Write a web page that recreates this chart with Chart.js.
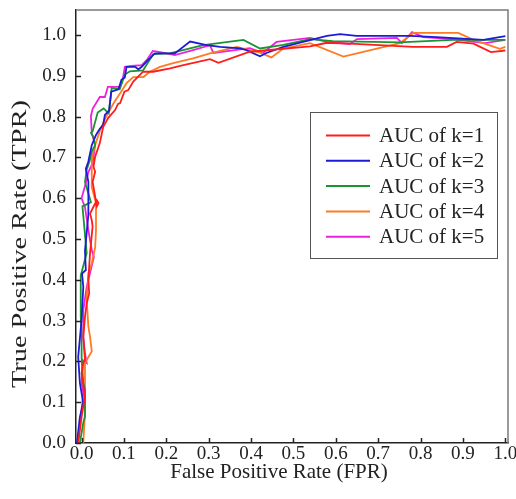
<!DOCTYPE html>
<html>
<head>
<meta charset="utf-8">
<script src="https://cdn.jsdelivr.net/npm/chart.js@4/dist/chart.umd.min.js"></script>
<style>
  body { margin: 0; background: #fff; }
  canvas { display: block; }
</style>
</head>
<body>
<canvas id="roc" width="516" height="499"></canvas>
<script>
// ROC curves, one pair of arrays per k
var fpr1 = [-0.008, 0.0, 0.008, 0.0, 0.004, 0.008, 0.004, 0.008, 0.012, 0.018, 0.016, 0.020, 0.026, 0.024, 0.020, 0.028, 0.036, 0.040, 0.036, 0.026, 0.032, 0.028, 0.032, 0.043, 0.051, 0.063, 0.079, 0.086, 0.091, 0.101, 0.110, 0.122, 0.145, 0.169, 0.209, 0.240, 0.303, 0.323, 0.397, 0.539, 0.579, 0.633, 0.783, 0.862, 0.885, 0.925, 0.966, 1.0];
var tpr1 = [0.0, 0.064, 0.114, 0.171, 0.196, 0.203, 0.260, 0.309, 0.342, 0.367, 0.400, 0.466, 0.531, 0.546, 0.562, 0.579, 0.595, 0.588, 0.580, 0.640, 0.665, 0.677, 0.702, 0.735, 0.775, 0.797, 0.816, 0.831, 0.833, 0.861, 0.865, 0.886, 0.910, 0.910, 0.918, 0.926, 0.941, 0.932, 0.959, 0.972, 0.981, 0.979, 0.971, 0.971, 0.983, 0.979, 0.958, 0.962];

var fpr2 = [-0.011, -0.004, 0.004, -0.004, -0.008, 0.0, 0.004, 0.001, 0.010, 0.008, 0.016, 0.016, 0.010, 0.016, 0.024, 0.034, 0.043, 0.051, 0.055, 0.065, 0.070, 0.087, 0.094, 0.102, 0.106, 0.126, 0.134, 0.142, 0.157, 0.173, 0.220, 0.256, 0.295, 0.327, 0.374, 0.389, 0.421, 0.436, 0.476, 0.579, 0.610, 0.649, 0.775, 0.838, 0.948, 1.0];
var tpr2 = [0.0, 0.064, 0.098, 0.147, 0.211, 0.302, 0.383, 0.415, 0.424, 0.471, 0.560, 0.640, 0.672, 0.690, 0.730, 0.755, 0.770, 0.780, 0.804, 0.815, 0.861, 0.867, 0.890, 0.896, 0.922, 0.922, 0.916, 0.922, 0.939, 0.955, 0.955, 0.984, 0.975, 0.971, 0.967, 0.963, 0.948, 0.956, 0.971, 0.998, 1.002, 0.998, 0.998, 0.995, 0.988, 0.997];

var fpr3 = [-0.004, 0.004, 0.008, 0.008, 0.004, 0.0, 0.0, -0.002, -0.002, 0.003, 0.012, 0.002, 0.012, 0.022, 0.008, 0.012, 0.020, 0.024, 0.032, 0.028, 0.022, 0.026, 0.038, 0.052, 0.064, 0.071, 0.090, 0.102, 0.114, 0.145, 0.169, 0.208, 0.287, 0.382, 0.421, 0.476, 0.539, 0.593, 0.751, 0.876, 1.0];
var tpr3 = [0.0, 0.050, 0.065, 0.130, 0.147, 0.210, 0.270, 0.310, 0.410, 0.430, 0.465, 0.580, 0.585, 0.590, 0.640, 0.670, 0.695, 0.715, 0.730, 0.750, 0.760, 0.764, 0.810, 0.820, 0.808, 0.870, 0.867, 0.903, 0.911, 0.913, 0.953, 0.955, 0.975, 0.988, 0.967, 0.976, 0.990, 0.985, 0.982, 0.988, 0.988];

var fpr4 = [0.004, 0.008, 0.008, 0.008, 0.024, 0.020, 0.016, 0.012, 0.016, 0.024, 0.032, 0.034, 0.034, 0.024, 0.024, 0.028, 0.036, 0.044, 0.055, 0.075, 0.091, 0.106, 0.122, 0.146, 0.161, 0.185, 0.216, 0.263, 0.303, 0.366, 0.421, 0.448, 0.476, 0.539, 0.618, 0.751, 0.783, 0.889, 0.925, 0.987, 1.0];
var tpr4 = [0.0, 0.073, 0.147, 0.196, 0.225, 0.260, 0.285, 0.351, 0.416, 0.440, 0.480, 0.520, 0.588, 0.627, 0.694, 0.715, 0.743, 0.767, 0.794, 0.832, 0.857, 0.882, 0.897, 0.897, 0.910, 0.922, 0.931, 0.943, 0.955, 0.971, 0.957, 0.945, 0.967, 0.980, 0.947, 0.980, 1.005, 1.005, 0.988, 0.966, 0.971];

var fpr5 = [-0.011, -0.008, 0.004, 0.0, 0.003, 0.012, 0.008, 0.004, 0.004, 0.012, 0.020, 0.029, 0.024, 0.016, 0.008, 0.0, 0.010, 0.016, 0.026, 0.032, 0.024, 0.022, 0.026, 0.043, 0.055, 0.062, 0.091, 0.098, 0.102, 0.118, 0.142, 0.154, 0.168, 0.185, 0.220, 0.263, 0.303, 0.311, 0.397, 0.428, 0.460, 0.539, 0.579, 0.633, 0.650, 0.744, 0.756, 0.780, 0.806, 0.876, 0.952, 1.0];
var tpr5 = [0.0, 0.007, 0.122, 0.147, 0.203, 0.196, 0.220, 0.260, 0.326, 0.382, 0.417, 0.456, 0.473, 0.522, 0.578, 0.600, 0.637, 0.664, 0.686, 0.730, 0.760, 0.801, 0.819, 0.848, 0.848, 0.873, 0.873, 0.897, 0.922, 0.924, 0.926, 0.939, 0.961, 0.958, 0.951, 0.963, 0.975, 0.956, 0.968, 0.956, 0.983, 0.993, 0.983, 0.978, 0.990, 0.993, 0.980, 1.007, 0.995, 0.990, 0.980, 0.988];

var seriesNames = ['AUC of k=1', 'AUC of k=2', 'AUC of k=3', 'AUC of k=4', 'AUC of k=5'];
var seriesColors = ['#ff1c1c', '#1c1cd6', '#1a9433', '#ff7b22', '#ee22dd'];
var tickValues = [0, 0.1, 0.2, 0.3, 0.4, 0.5, 0.6, 0.7, 0.8, 0.9, 1.0];

var serif = '"Liberation Serif", "Times New Roman", serif';

function pairs(xs, ys) {
    var out = [];
    for (var i = 0; i < xs.length; i++) out.push({x: xs[i], y: ys[i]});
    return out;
}

var allX = [fpr1, fpr2, fpr3, fpr4, fpr5];
var allY = [tpr1, tpr2, tpr3, tpr4, tpr5];
var datasets = [];
for (var k = 0; k < 5; k++) {
    datasets.push({
        label: seriesNames[k],
        data: pairs(allX[k], allY[k]),
        borderColor: seriesColors[k],
        backgroundColor: seriesColors[k],
        borderWidth: 1.8,
        pointRadius: 0,
        tension: 0,
        fill: false
    });
}

function setTicks(scale) {
    scale.ticks = tickValues.map(function (v) { return {value: v}; });
}

// frame, inside tick marks, axis titles and the boxed legend
var decorations = {
    id: 'decorations',
    afterDraw: function (chart) {
        var ctx = chart.ctx;
        var a = chart.chartArea;
        var xs = chart.scales.x, ys = chart.scales.y;
        ctx.save();

        // top and right frame
        ctx.strokeStyle = '#7a7a7a';
        ctx.lineWidth = 1.5;
        ctx.beginPath();
        ctx.moveTo(a.left, a.top);
        ctx.lineTo(a.right, a.top);
        ctx.lineTo(a.right, a.bottom);
        ctx.stroke();

        // tick marks pointing inwards
        ctx.strokeStyle = '#222';
        ctx.lineWidth = 1.5;
        ctx.beginPath();
        tickValues.forEach(function (v) {
            var px = Math.round(xs.getPixelForValue(v)) + 0.5;
            ctx.moveTo(px, a.bottom);
            ctx.lineTo(px, a.bottom - 5);
            var py = Math.round(ys.getPixelForValue(v)) + 0.5;
            ctx.moveTo(a.left, py);
            ctx.lineTo(a.left + 5, py);
        });
        ctx.stroke();

        // axis titles (the y title is stretched along its length, as in the source figure)
        ctx.fillStyle = '#222';
        ctx.font = '21px ' + serif;
        ctx.textAlign = 'center';
        ctx.textBaseline = 'middle';
        ctx.fillText('False Positive Rate (FPR)', 279, 472);
        ctx.translate(20, 244);
        ctx.rotate(-Math.PI / 2);
        ctx.scale(1.35, 1);
        ctx.fillText('True Positive Rate (TPR)', 0, 0);
        ctx.setTransform(1, 0, 0, 1, 0, 0);

        // legend box
        ctx.strokeStyle = '#555';
        ctx.lineWidth = 1;
        ctx.strokeRect(310.5, 112.5, 187, 146);
        ctx.font = '21px ' + serif;
        ctx.textAlign = 'left';
        chart.data.datasets.forEach(function (ds, i) {
            var y = 135.5 + i * 25.3;
            ctx.strokeStyle = ds.borderColor;
            ctx.lineWidth = 2;
            ctx.beginPath();
            ctx.moveTo(326, y);
            ctx.lineTo(370, y);
            ctx.stroke();
            ctx.fillStyle = '#222';
            ctx.fillText(ds.label, 379, y + 1);
        });
        ctx.restore();
    }
};

new Chart(document.getElementById('roc'), {
    type: 'line',
    data: {datasets: datasets},
    options: {
        responsive: false,
        animation: false,
        events: [],
        layout: {padding: {top: 10, right: 8, left: 0, bottom: 0}},
        plugins: {
            legend: {display: false},
            tooltip: {enabled: false}
        },
        scales: {
            x: {
                type: 'linear',
                min: -0.0132,
                max: 1.0063,
                afterBuildTicks: setTicks,
                afterFit: function (s) { s.height = 56; s.paddingLeft = 0; s.paddingRight = 0; },
                grid: {display: false, drawTicks: false, tickLength: 0},
                border: {display: true, color: '#222', width: 1.5},
                ticks: {
                    color: '#222',
                    padding: 0,
                    maxRotation: 0,
                    autoSkip: false,
                    font: {family: serif, size: 19},
                    callback: function (v) { return v.toFixed(1); }
                }
            },
            y: {
                type: 'linear',
                min: 0,
                max: 1.0613,
                afterBuildTicks: setTicks,
                afterFit: function (s) { s.width = 76; s.paddingTop = 0; s.paddingBottom = 0; },
                grid: {display: false, drawTicks: false, tickLength: 0},
                border: {display: true, color: '#222', width: 1.5},
                ticks: {
                    color: '#222',
                    padding: 10,
                    autoSkip: false,
                    font: {family: serif, size: 19},
                    callback: function (v) { return v.toFixed(1); }
                }
            }
        }
    },
    plugins: [decorations]
});
</script>
</body>
</html>
